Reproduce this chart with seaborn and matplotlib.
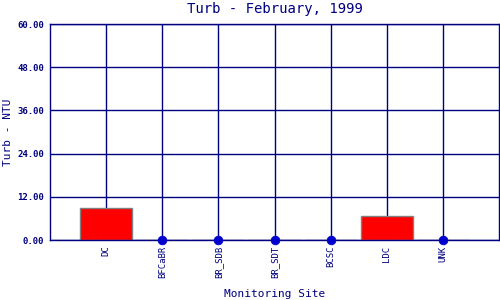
import matplotlib
matplotlib.use("Agg")
import matplotlib.pyplot as plt
import seaborn as sns
import pandas as pd

sites = ["DC", "BFCaBR", "BR_SDB", "BR_SDT", "BCSC", "LDC", "UNK"]
turb = [8.8, 0.0, 0.0, 0.0, 0.0, 6.6, 0.0]
yticks = [0, 12, 24, 36, 48, 60]

navy = "#000080"
df = pd.DataFrame({"site": sites, "turb": turb})

sns.set_style("white")
plt.rcParams["font.family"] = ["DejaVu Sans Mono", "DejaVu Sans"]

fig = plt.figure(figsize=(5, 3), dpi=100)
ax = fig.add_axes([0.1, 0.2, 0.898, 0.72])

ax.set_xlim(-1, len(sites))
ax.set_ylim(0, 60)
ax.set_yticks(yticks)
ax.set_yticklabels([f"{v:.2f}" for v in yticks], fontsize=6.5, color=navy, fontweight="bold")
for y in yticks:
    ax.axhline(y, color=navy, lw=1, zorder=0)
for i in range(len(sites)):
    ax.axvline(i, color=navy, lw=1, zorder=0)

sns.barplot(data=df, x="site", y="turb", ax=ax, color="#ff0000",
            edgecolor="#808080", linewidth=1, width=0.93, saturation=1, zorder=2)
zero = df[df["turb"] == 0]
sns.scatterplot(data=zero, x="site", y="turb", ax=ax, color="#0000cc",
                s=40, edgecolor="#0000cc", zorder=3, clip_on=False)

ax.set_xlim(-1, len(sites))
ax.set_ylim(0, 60)
ax.set_xticks(range(len(sites)))
ax.set_xticklabels(sites, rotation=90, fontsize=6.5, color=navy)
ax.tick_params(axis="both", length=0, pad=4)
for s in ax.spines.values():
    s.set_color(navy)
    s.set_linewidth(1)

ax.set_title("Turb - February, 1999", fontsize=10, color=navy, pad=8)
ax.set_xlabel("Monitoring Site", fontsize=8, color=navy)
ax.set_ylabel("Turb - NTU", fontsize=8, color=navy)
ax.xaxis.set_label_coords(0.5, -0.25)
ax.yaxis.set_label_coords(-0.094, 0.5)
ax.xaxis.label.set_va("center")
ax.yaxis.label.set_va("center")

fig.savefig("out.png", dpi=100)
